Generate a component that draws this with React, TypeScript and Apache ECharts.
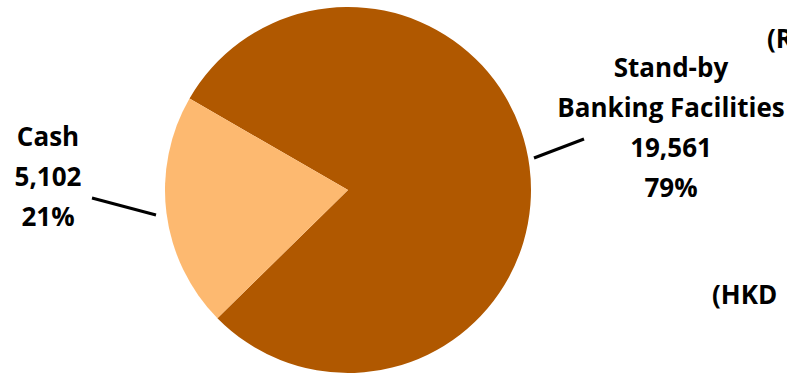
import React, { useEffect, useRef } from "react";
import * as echarts from "echarts";

const categories = ["Stand-by\nBanking Facilities", "Cash"];
const values = [19561, 5102];
const colors = ["#B05800", "#FDB970"];
const unitTexts = ["(R", "(HKD"];

const FONT = "'Open Sans', 'Noto Sans', sans-serif";

export default function App() {
  const ref = useRef<HTMLDivElement>(null);
  useEffect(() => {
    if (!ref.current) return;
    const chart = echarts.init(ref.current, undefined, { renderer: "svg" });
    const total = values.reduce((a, b) => a + b, 0);
    const labelPos = [
      { x: 671, y: 127, line: [[534, 158], [559, 148.5], [584, 139]] },
      { x: 48, y: 176, line: [[92, 198], [124, 206.5], [156, 215]] },
    ];
    chart.setOption({
      animation: false,
      backgroundColor: "#ffffff",
      series: [
        {
          type: "pie",
          center: [348, 190],
          radius: 183,
          startAngle: 150,
          clockwise: true,
          avoidLabelOverlap: false,
          itemStyle: { borderWidth: 0 },
          label: {
            show: true,
            color: "#000",
            fontFamily: FONT,
            fontWeight: "bold",
            fontSize: 26,
            lineHeight: 40,
            align: "center",
            formatter: (p: any) =>
              p.name +
              "\n" +
              Number(p.value).toLocaleString("en-US") +
              "\n" +
              Math.round((p.value / total) * 100) +
              "%",
          },
          labelLine: {
            show: true,
            lineStyle: { color: "#000", width: 3 },
          },
          labelLayout: (params: any) => {
            const lp = labelPos[params.dataIndex];
            return {
              x: lp.x,
              y: lp.y,
              align: "center",
              verticalAlign: "middle",
              labelLinePoints: lp.line,
            };
          },
          emphasis: { disabled: true },
          data: categories.map((c, i) => ({
            name: c,
            value: values[i],
            itemStyle: { color: colors[i] },
          })),
        },
      ],
      graphic: [
        {
          type: "text",
          x: 767,
          y: 38,
          style: {
            text: unitTexts[0],
            font: `bold 26px ${FONT}`,
            fill: "#000",
            verticalAlign: "middle",
            align: "left",
          },
        },
        {
          type: "text",
          x: 712,
          y: 294,
          style: {
            text: unitTexts[1],
            font: `bold 26px ${FONT}`,
            fill: "#000",
            verticalAlign: "middle",
            align: "left",
          },
        },
      ],
    });
    return () => chart.dispose();
  }, []);
  return (
    <div
      ref={ref}
      style={{ position: "absolute", left: 0, top: 0, width: 787, height: 374 }}
    />
  );
}
